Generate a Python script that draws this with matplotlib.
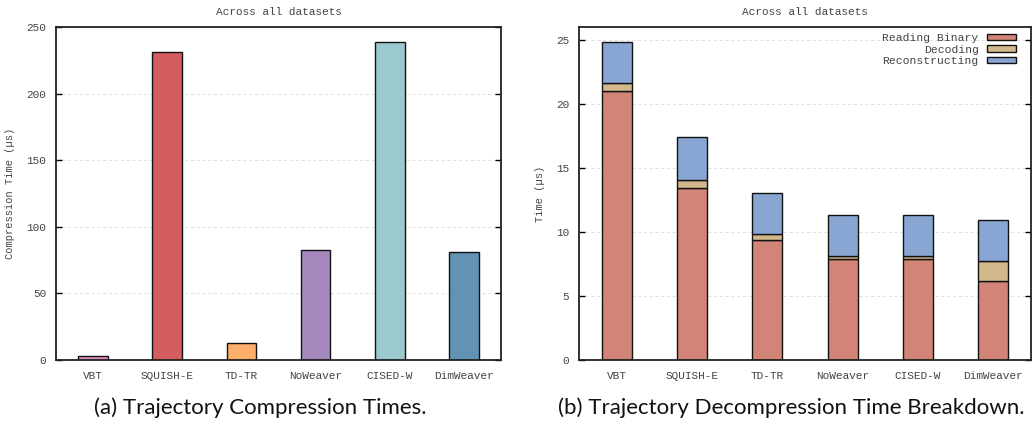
import matplotlib
matplotlib.use('Agg')
import matplotlib.pyplot as plt
import numpy as np

methods = ['VBT', 'SQUISH-E', 'TD-TR', 'NoWeaver', 'CISED-W', 'DimWeaver']

# compression time per method (us)
compress_time = [3.0, 231.0, 13.0, 82.5, 238.7, 80.7]
compress_colors = ['#dc8fc0', '#d65d5d', '#fdae6b', '#a588be', '#9bc9ce', '#6292b4']

# decompression breakdown (us)
reading_binary = [21.0, 13.45, 9.35, 7.85, 7.85, 6.15]
decoding = [0.6, 0.6, 0.45, 0.3, 0.3, 1.6]
reconstructing = [3.2, 3.4, 3.2, 3.2, 3.2, 3.2]
part_names = ['Reading Binary', 'Decoding', 'Reconstructing']
part_colors = ['#d28477', '#d3b88c', '#88a5d3']

mono = 'Liberation Mono'
txt_gray = '#444444'

fig = plt.figure(figsize=(10.35, 4.29), dpi=100)
ax1 = fig.add_axes([0.0541, 0.161, 0.430, 0.776])
ax2 = fig.add_axes([0.5594, 0.161, 0.4367, 0.776])

x = np.arange(len(methods))
width = 0.4


def style_axes(ax, yticks):
    ax.set_xlim(-0.5, len(methods) - 0.5)
    ax.set_yticks(yticks)
    ax.yaxis.grid(True, linestyle=(0, (4, 3)), color='#dddddd', linewidth=0.6)
    ax.set_axisbelow(True)
    for s in ax.spines.values():
        s.set_linewidth(1.3)
        s.set_color('#222222')
    ax.tick_params(axis='y', direction='in', right=True, length=4, width=1,
                   pad=7, labelsize=8, labelcolor=txt_gray)
    ax.tick_params(axis='x', length=0, pad=8, labelsize=8, labelcolor=txt_gray)
    ax.set_xticks(x)
    ax.set_xticklabels(methods, family=mono)
    for lab in ax.get_yticklabels():
        lab.set_family(mono)
    ax.set_title('Across all datasets', family=mono, fontsize=8,
                 color=txt_gray, pad=8.5)


# (a) compression times
ax1.bar(x, compress_time, width, color=compress_colors,
        edgecolor='#111111', linewidth=1.0)
ax1.set_ylim(0, 250)
style_axes(ax1, [0, 50, 100, 150, 200, 250])
ax1.set_ylabel('Compression Time (\u00b5s)', family=mono, fontsize=7.5,
               color=txt_gray, labelpad=8)

# (b) decompression breakdown, stacked
bottom = np.zeros(len(methods))
for vals, name, col in zip([reading_binary, decoding, reconstructing],
                           part_names, part_colors):
    ax2.bar(x, vals, width, bottom=bottom, color=col, label=name,
            edgecolor='#111111', linewidth=1.0)
    bottom += np.array(vals)
ax2.set_ylim(0, 26)
style_axes(ax2, [0, 5, 10, 15, 20, 25])
ax2.set_ylabel('Time (\u00b5s)', family=mono, fontsize=7.5,
               color=txt_gray, labelpad=8)
leg = ax2.legend(loc='upper right', frameon=False, markerfirst=False,
                 prop={'family': mono, 'size': 8.2}, handlelength=2.6,
                 handleheight=0.5, labelspacing=0.12, handletextpad=0.7,
                 borderaxespad=0.0, borderpad=0.1,
                 bbox_to_anchor=(0.97, 0.985))
for t in leg.get_texts():
    t.set_color(txt_gray)

fig.text(0.2515, 0.049, '(a) Trajectory Compression Times.', ha='center',
         va='center', fontsize=16, family='Lato', color='#111111')
fig.text(0.7645, 0.049, '(b) Trajectory Decompression Time Breakdown.',
         ha='center', va='center', fontsize=16, family='Lato',
         color='#111111')

fig.savefig('out.png', dpi=100)
